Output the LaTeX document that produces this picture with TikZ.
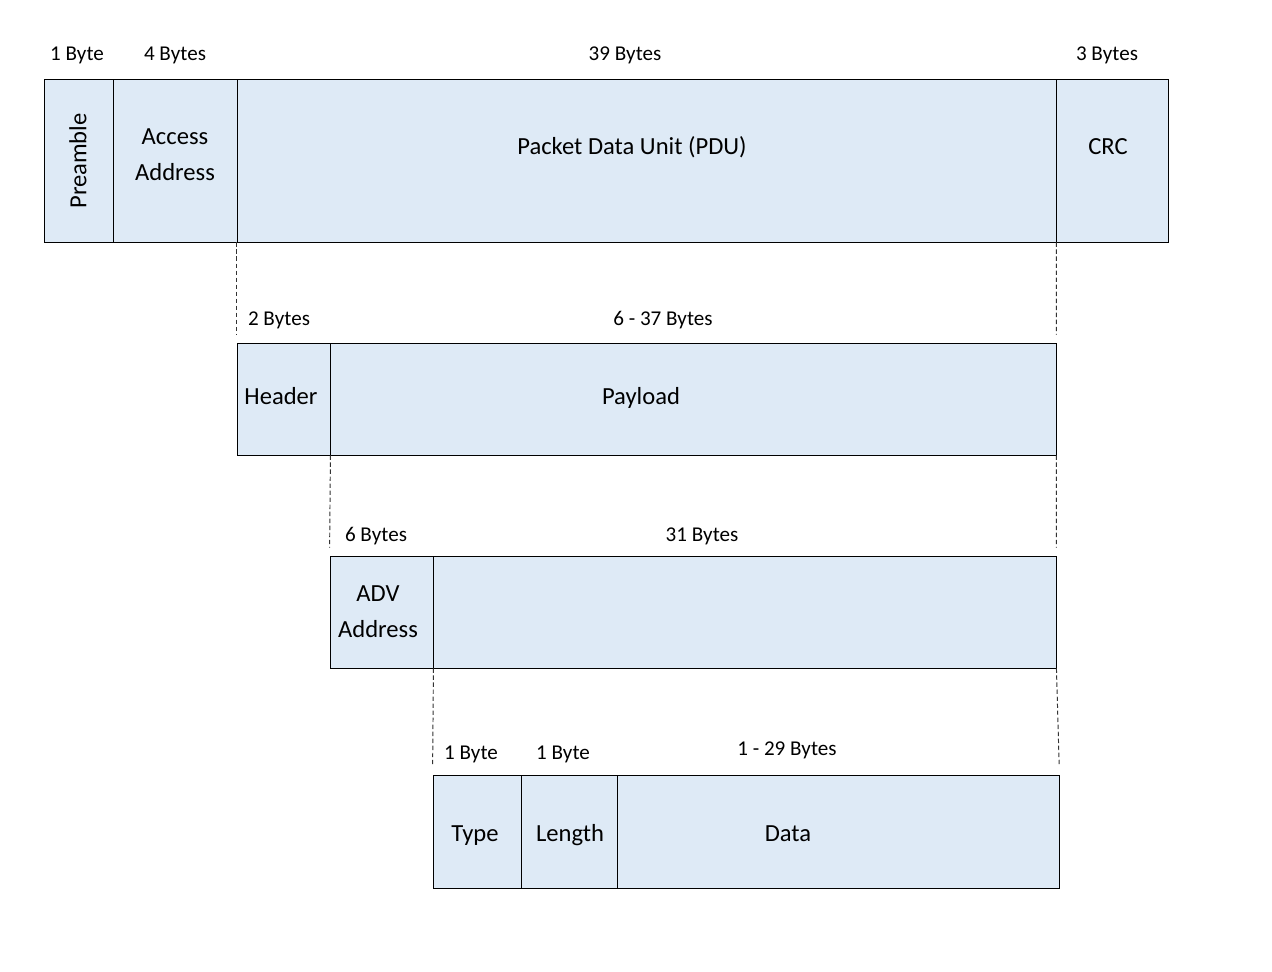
\documentclass[tikz,border=0pt]{standalone}
\usepackage{fontspec}
\setmainfont{Carlito}
\usetikzlibrary{fit,positioning}
\definecolor{fieldblue}{HTML}{DEEAF6}
\tikzset{
  field/.style={draw=black,fill=fieldblue,line width=0.5pt,inner sep=0pt},
  fieldtext/.style={font=\fontsize{14}{20.5}\selectfont,align=center,inner sep=0pt},
  bytes/.style={font=\fontsize{12}{14}\selectfont,inner sep=0pt,anchor=base},
  guide/.style={draw=black!80,line width=0.55pt,dash pattern=on 2.5pt off 1.5pt,shorten >=0.16cm},
}
\begin{document}
\begin{tikzpicture}[x=0.02cm,y=-0.02cm]
    \useasboundingbox (0,0) rectangle (1272,972);

    % advertising packet
    \node[field,fit={(44,79) (113,242)}] (pre) {};
    \node[field,fit={(113,79) (237,242)}] (aa) {};
    \node[field,fit={(237,79) (1056,242)}] (pdu) {};
    \node[field,fit={(1056,79) (1168,242)}] (crc) {};
    \node[fieldtext,rotate=90] (tpre) at (78,161) {Preamble};
    \node[fieldtext] (taa) at (175,155) {Access\\Address};
    \node[fieldtext,anchor=base] (tpdu) at (632,155) {Packet Data Unit (PDU)};
    \node[fieldtext,anchor=base] (tcrc) at (1108,155) {CRC};
    \node[bytes] (bpre) at (77,61) {1 Byte};
    \node[bytes] (baa) at (175,61) {4 Bytes};
    \node[bytes] (bpdu) at (625,61) {39 Bytes};
    \node[bytes] (bcrc) at (1107,61) {3 Bytes};

    % PDU
    \node[field,fit={(237,343) (330,455)}] (hdr) {};
    \node[field,fit={(330,343) (1056,455)}] (pay) {};
    \node[fieldtext,anchor=base] (thdr) at (281,405) {Header};
    \node[fieldtext,anchor=base] (tpay) at (641,405) {Payload};
    \node[bytes] (bhdr) at (279,326) {2 Bytes};
    \node[bytes] (bpay) at (663,326) {6 - 37 Bytes};

    % payload
    \node[field,fit={(330,556) (433,668)}] (adv) {};
    \node[field,fit={(433,556) (1056,668)}] (advdata) {};
    \node[fieldtext] (tadv) at (378,612) {ADV\\Address};
    \node[bytes] (badv) at (376,542) {6 Bytes};
    \node[bytes] (badvdata) at (702,542) {31 Bytes};

    % AD structure
    \node[field,fit={(433,775) (521,888)}] (typ) {};
    \node[field,fit={(521,775) (617,888)}] (len) {};
    \node[field,fit={(617,775) (1059,888)}] (dat) {};
    \node[fieldtext,anchor=base] (ttyp) at (475,842) {Type};
    \node[fieldtext,anchor=base] (tlen) at (570,842) {Length};
    \node[fieldtext,anchor=base] (tdat) at (788,842) {Data};
    \node[bytes] (btyp) at (471,760) {1 Byte};
    \node[bytes] (blen) at (563,760) {1 Byte};
    \node[bytes] (bdat) at (787,756) {1 - 29 Bytes};

    \draw[guide]
      (pdu.south west) edge (hdr.north west)
      (pdu.south east) edge (pay.north east)
      (hdr.south east) edge (adv.north west)
      (pay.south east) edge (advdata.north east)
      (adv.south east) edge (typ.north west)
      (advdata.south east) edge (dat.north east);
  \end{tikzpicture}
\end{document}
